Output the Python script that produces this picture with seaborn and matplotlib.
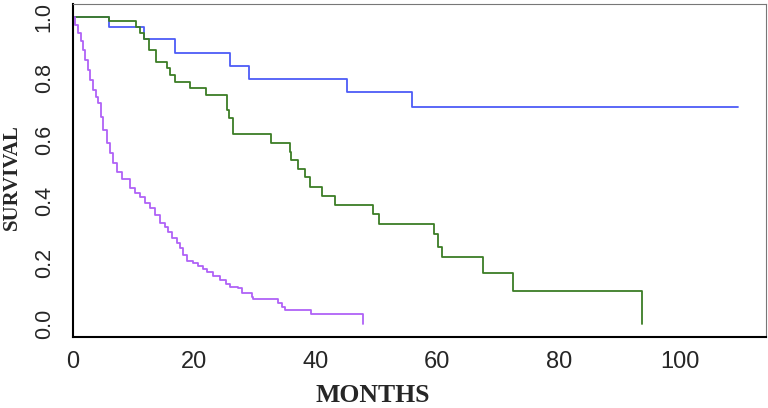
import pandas as pd
import matplotlib
matplotlib.use("Agg")
import matplotlib.pyplot as plt
import seaborn as sns

# Kaplan-Meier step curves (time in months, survival probability)
blue_t = [0, 5.9, 11.7, 16.9, 25.9, 29.0, 45.1, 55.9, 109.5]
blue_s = [1.0, 0.968, 0.927, 0.884, 0.841, 0.798, 0.756, 0.708, 0.708]

green_t = [0, 5.9, 10.4, 11.1, 11.7, 12.6, 13.7, 15.5, 16.0, 16.8, 19.3, 22.0,
           25.45, 25.8, 26.3, 32.6, 35.8, 36.0, 37.1, 38.2, 39.1, 41.1, 43.1,
           49.5, 50.4, 59.4, 60.2, 60.7, 67.6, 72.5, 93.7]
green_s = [1.0, 0.986, 0.968, 0.946, 0.927, 0.892, 0.852, 0.833, 0.811, 0.789, 0.768, 0.746,
           0.697, 0.670, 0.619, 0.589, 0.561, 0.534, 0.505, 0.478, 0.445, 0.417, 0.387,
           0.358, 0.325, 0.292, 0.252, 0.219, 0.165, 0.109, 0.0]

purple_t = [0, 0.4, 0.87, 1.3, 1.7, 2.1, 2.5, 2.9, 3.3, 3.8, 4.2, 4.7, 5.04, 5.6,
            6.14, 6.68, 7.24, 8.07, 9.43, 10.26, 11.08, 11.9, 12.7, 13.55, 14.37,
            15.19, 15.74, 16.3, 17.12, 17.66, 18.2, 18.77, 19.85, 20.67, 21.5, 22.1,
            23.1, 24.2, 25.2, 25.9, 27.26, 27.8, 29.5, 29.7, 33.8, 34.4, 34.9, 39.3, 47.7]
purple_s = [1.0, 0.975, 0.947, 0.92, 0.893, 0.86, 0.827, 0.795, 0.762, 0.74, 0.72, 0.675, 0.632, 0.589,
            0.556, 0.523, 0.496, 0.472, 0.442, 0.428, 0.415, 0.393, 0.377, 0.355, 0.330,
            0.317, 0.301, 0.279, 0.263, 0.247, 0.225, 0.205, 0.200, 0.189, 0.178, 0.168,
            0.156, 0.143, 0.130, 0.121, 0.116, 0.100, 0.089, 0.081, 0.070, 0.057, 0.046, 0.033, 0.0]

x_ticks = [0, 20, 40, 60, 80, 100]
y_ticks = [0.0, 0.2, 0.4, 0.6, 0.8, 1.0]
y_labels = ["0.0", "0.2", "0.4", "0.6", "0.8", "1.0"]

colors = {"blue": "#4d5cf7", "green": "#3c7d25", "purple": "#b062f7"}

frames = []
for name, t, s in [("blue", blue_t, blue_s), ("green", green_t, green_s), ("purple", purple_t, purple_s)]:
    frames.append(pd.DataFrame({"months": t, "survival": s, "group": name}))
df = pd.concat(frames, ignore_index=True)

sns.set_style("white")
plt.rcParams["font.family"] = ["Liberation Sans", "DejaVu Sans"]

fig = plt.figure(figsize=(7.68, 4.08), dpi=100)
ax = fig.add_axes([72.7 / 768, 1 - 337 / 408, (766 - 72.7) / 768, (337 - 4) / 408])

sns.lineplot(data=df, x="months", y="survival", hue="group", palette=colors,
             estimator=None, sort=False, drawstyle="steps-post", linewidth=1.3,
             legend=False, ax=ax)

ax.set_xlim(0, 114.1)
ax.set_ylim(-0.042, 1.042)
ax.set_xticks(x_ticks)
ax.set_yticks(y_ticks)
ax.set_yticklabels(y_labels, rotation=90, va="center")
ax.tick_params(axis="x", length=8, width=1.3, color="black", pad=2, labelsize=17, direction="out")
ax.tick_params(axis="y", length=8, width=1.6, color="#555555", pad=5, labelsize=15.5, direction="out")

for side in ["left", "bottom"]:
    ax.spines[side].set_color("black")
    ax.spines[side].set_linewidth(1.5)
for side in ["top", "right"]:
    ax.spines[side].set_color("#777777")
    ax.spines[side].set_linewidth(0.8)

ax.set_xlabel("MONTHS", family=["Liberation Serif", "DejaVu Serif"], fontweight="bold", fontsize=18.5)
ax.set_ylabel("SURVIVAL", family=["Liberation Serif", "DejaVu Serif"], fontweight="bold", fontsize=15)
ax.xaxis.set_label_coords(0.433, -0.142)
ax.yaxis.set_label_coords(-0.073, 0.48)

fig.savefig("out.png", dpi=100)
